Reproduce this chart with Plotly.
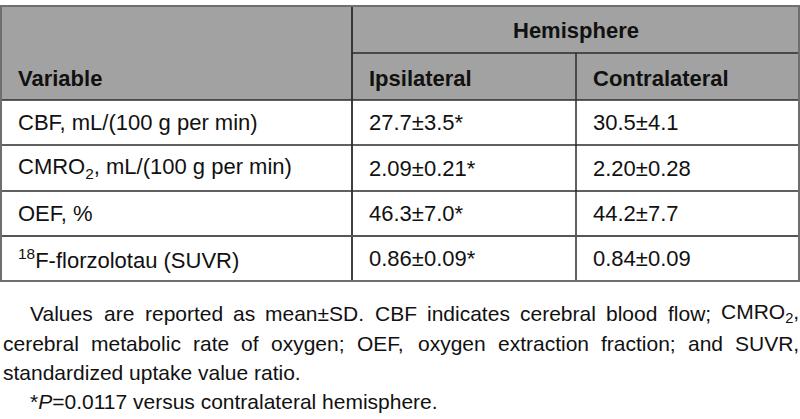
import re
import plotly.graph_objects as go

# ---- data ----
group_header = "Hemisphere"
column_headers = ["Variable", "Ipsilateral", "Contralateral"]
variables = [
    "CBF, mL/(100 g per min)",
    "CMRO<sub>2</sub>, mL/(100 g per min)",
    "OEF, %",
    "<sup>18</sup>F-florzolotau (SUVR)",
]
ipsilateral = ["27.7±3.5*", "2.09±0.21*", "46.3±7.0*", "0.86±0.09*"]
contralateral = ["30.5±4.1", "2.20±0.28", "44.2±7.7", "0.84±0.09"]
footnotes = [
    "Values are reported as mean±SD. CBF indicates cerebral blood flow; CMRO<sub>2</sub>,",
    "cerebral metabolic rate of oxygen; OEF, oxygen extraction fraction; and SUVR,",
    "standardized uptake value ratio.",
    "*<i>P</i>=0.0117 versus contralateral hemisphere.",
]
footnote_justified = [True, True, False, False]

# ---- layout geometry ----
W, H = 800, 419
col_edges = [1, 352, 576, 799]
top, mid_head, head_bottom = 6, 53, 100
row_edges = [100, 145, 191, 236, 281]
pad = 15
foot_y = [313, 343, 372, 401]
foot_x0 = [28, 1, 1, 28]
foot_x1 = 797
FOOT_SIZE = 21

FONT = "Liberation Sans, Arial, sans-serif"
GRAY = "#a2a2a2"
OUTER = "#6f6f6f"
INNER = "#2b2b2b"

# Arial / Liberation Sans advance widths (1/1000 em) for text layout of justified lines
AW = {' ': 278, '(': 333, ')': 333, '*': 389, ',': 278, '-': 333, '.': 278, '/': 278, ';': 278,
      '=': 584, '±': 584, '%': 889,
      'A': 667, 'B': 667, 'C': 722, 'D': 722, 'E': 667, 'F': 611, 'G': 778, 'H': 722, 'I': 278,
      'J': 500, 'K': 667, 'L': 556, 'M': 833, 'N': 722, 'O': 778, 'P': 667, 'Q': 778, 'R': 722,
      'S': 667, 'T': 611, 'U': 722, 'V': 667, 'W': 944, 'X': 667, 'Y': 667, 'Z': 611,
      'a': 556, 'b': 556, 'c': 500, 'd': 556, 'e': 556, 'f': 278, 'g': 556, 'h': 556, 'i': 222,
      'j': 222, 'k': 500, 'l': 222, 'm': 833, 'n': 556, 'o': 556, 'p': 556, 'q': 556, 'r': 333,
      's': 500, 't': 278, 'u': 556, 'v': 500, 'w': 722, 'x': 500, 'y': 500, 'z': 500}


def text_width(s, size):
    w = 0.0
    for part in re.split(r"(<sub>.*?</sub>|<sup>.*?</sup>)", s):
        if not part:
            continue
        scale = 1.0
        if part.startswith("<su"):
            scale = 0.7
        part = re.sub(r"<.*?>", "", part)
        for ch in part:
            w += AW.get(ch, 556) * scale
    return w * size / 1000.0


fig = go.Figure()
fig.add_trace(go.Scatter(x=[0, W], y=[0, H], mode="markers", marker=dict(opacity=0),
                         hoverinfo="skip", showlegend=False))

shapes = []
shapes.append(dict(type="rect", x0=col_edges[0], x1=col_edges[-1], y0=top, y1=head_bottom,
                   fillcolor=GRAY, line=dict(width=0), layer="below"))
shapes.append(dict(type="line", x0=col_edges[1], x1=col_edges[-1], y0=mid_head, y1=mid_head,
                   line=dict(color=INNER, width=1.5)))
shapes.append(dict(type="line", x0=col_edges[1], x1=col_edges[1], y0=top, y1=row_edges[-1],
                   line=dict(color=INNER, width=1.8)))
shapes.append(dict(type="line", x0=col_edges[2], x1=col_edges[2], y0=mid_head, y1=row_edges[-1],
                   line=dict(color=INNER, width=1.5)))
for i, y in enumerate(row_edges[:-1]):
    shapes.append(dict(type="line", x0=col_edges[0], x1=col_edges[-1], y0=y, y1=y,
                       line=dict(color=INNER if i != 3 else "#555555", width=1.5 if i != 3 else 2)))
shapes.append(dict(type="rect", x0=col_edges[0], x1=col_edges[-1], y0=top, y1=row_edges[-1],
                   line=dict(color=OUTER, width=2)))

ann = []


def txt(x, y, s, xanchor="left", bold=False, size=22):
    ann.append(dict(x=x, y=y, xref="x", yref="y", text=s, showarrow=False, xanchor=xanchor,
                    yanchor="middle",
                    font=dict(family=FONT, size=size, color="#111111",
                              weight="bold" if bold else "normal")))


txt((col_edges[1] + col_edges[-1]) / 2, (top + mid_head) / 2 + 1, group_header, xanchor="center", bold=True)
for j, h in enumerate(column_headers):
    txt(col_edges[j] + pad, (mid_head + head_bottom) / 2 + 2, h, bold=True)
for i in range(len(variables)):
    yc = (row_edges[i] + row_edges[i + 1]) / 2
    txt(col_edges[0] + pad, yc, variables[i])
    txt(col_edges[1] + pad, yc, ipsilateral[i])
    txt(col_edges[2] + pad, yc, contralateral[i])

for k, line in enumerate(footnotes):
    if footnote_justified[k]:
        words = line.split(" ")
        widths = [text_width(w_, FOOT_SIZE) for w_ in words]
        gap = (foot_x1 - foot_x0[k] - sum(widths)) / (len(words) - 1)
        x = foot_x0[k]
        for w_, wd in zip(words, widths):
            txt(x, foot_y[k], w_, size=FOOT_SIZE)
            x += wd + gap
    else:
        txt(foot_x0[k], foot_y[k], line, size=FOOT_SIZE)

fig.update_layout(
    width=W, height=H, margin=dict(l=0, r=0, t=0, b=0),
    paper_bgcolor="white", plot_bgcolor="white",
    xaxis=dict(range=[0, W], visible=False, fixedrange=True),
    yaxis=dict(range=[H, 0], visible=False, fixedrange=True),
    shapes=shapes, annotations=ann,
)
fig.write_html("out.html", config={"displayModeBar": False},
               post_script="document.body.style.margin='0px';document.body.style.padding='0px';")
